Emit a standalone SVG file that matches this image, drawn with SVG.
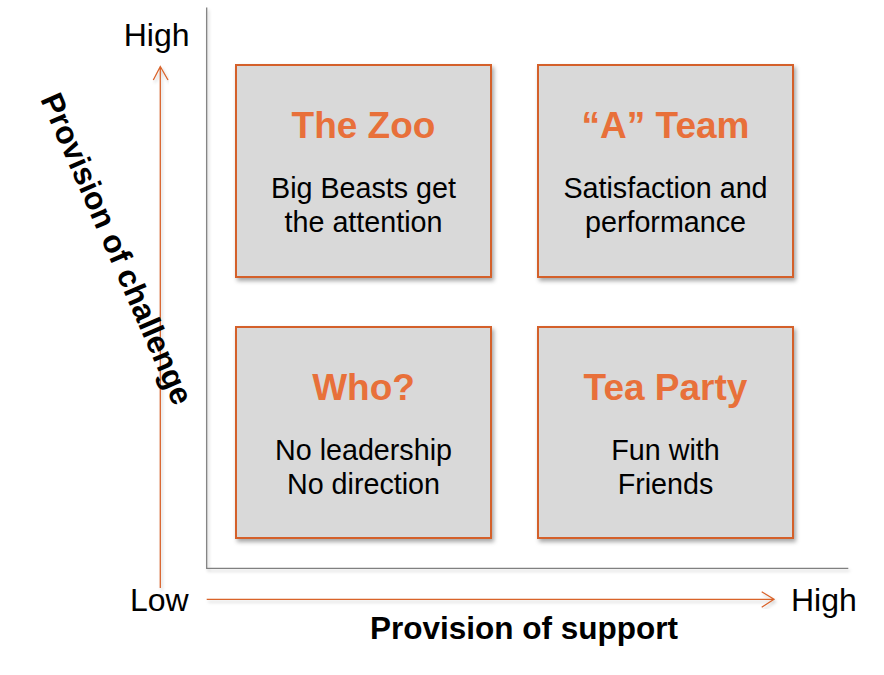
<svg xmlns="http://www.w3.org/2000/svg" width="884" height="675" viewBox="0 0 884 675">
<defs>
<style>
.box{fill:#d9d9d9;stroke:#d4602a;stroke-width:2;filter:url(#sh)}
.title{font-family:"Liberation Sans",Arial,sans-serif;font-weight:bold;font-size:37px;fill:#e8703a;text-anchor:middle}
.body{font-family:"Liberation Sans",Arial,sans-serif;font-size:28.7px;fill:#000;text-anchor:middle}
.lbl{font-family:"Liberation Sans",Arial,sans-serif;font-size:32px;fill:#000}
.axt{font-family:"Liberation Sans",Arial,sans-serif;font-weight:bold;font-size:31.5px;fill:#000}
.gray{stroke:#808080;stroke-width:1.3;fill:none;filter:url(#lsh)}
.arr{stroke:#d9632b;stroke-width:1.3;fill:none;filter:url(#lsh)}
</style>
<filter id="sh" x="-10%" y="-10%" width="125%" height="125%">
<feDropShadow dx="2" dy="3" stdDeviation="2" flood-color="#000" flood-opacity="0.35"/>
</filter>
<filter id="lsh" x="-5%" y="-5%" width="110%" height="110%">
<feDropShadow dx="1.5" dy="2.5" stdDeviation="1.5" flood-color="#000" flood-opacity="0.2"/>
</filter>
</defs>
<rect width="884" height="675" fill="#fff"/>
<g id="connectors">
<path class="gray" d="M206.7,7.5 V568.3 H848.3"/>
<path class="arr" d="M160.3,588 V66.5 M153.3,80 L160.3,66.5 L168,80"/>
<path class="arr" d="M206.7,599.3 H774 M761.7,591.7 L774,599.3 L761.7,607.3"/>
</g>
<g id="axis-labels">
<text class="lbl" x="189.5" y="46" text-anchor="end">High</text>
<text class="lbl" x="130" y="610.7">Low</text>
<text class="lbl" x="791" y="610.7">High</text>
<text class="axt" x="524" y="638.5" text-anchor="middle">Provision of support</text>
<text class="axt" text-anchor="middle" transform="translate(107,253) rotate(66.5)">Provision of challenge</text>
</g>
<g id="zoo">
<rect class="box" x="236" y="65" width="255" height="212"/>
<text class="title" x="363.5" y="137.5">The Zoo</text>
<text class="body" x="363.5" y="198">Big Beasts get</text>
<text class="body" x="363.5" y="231.5">the attention</text>
</g>
<g id="a-team">
<rect class="box" x="538" y="65" width="255" height="212"/>
<text class="title" x="665.5" y="137.5">“A” Team</text>
<text class="body" x="665.5" y="198">Satisfaction and</text>
<text class="body" x="665.5" y="231.5">performance</text>
</g>
<g id="who">
<rect class="box" x="236" y="327" width="255" height="211"/>
<text class="title" x="363.5" y="399.5">Who?</text>
<text class="body" x="363.5" y="460">No leadership</text>
<text class="body" x="363.5" y="493.5">No direction</text>
</g>
<g id="tea-party">
<rect class="box" x="538" y="327" width="255" height="211"/>
<text class="title" x="665.5" y="399.5">Tea Party</text>
<text class="body" x="665.5" y="460">Fun with</text>
<text class="body" x="665.5" y="493.5">Friends</text>
</g>
</svg>
